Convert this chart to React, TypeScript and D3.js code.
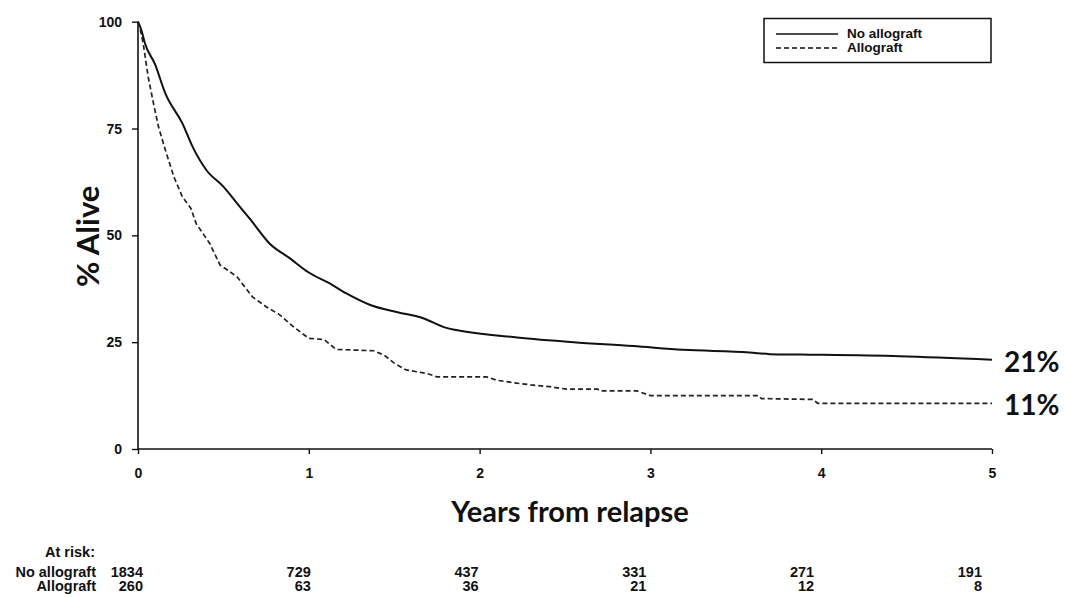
import { useRef, useEffect } from "react";
import * as d3 from "d3";

// Kaplan-Meier estimates (years, % alive)
const noAllograftYears = [0, 0.02, 0.04, 0.1, 0.16, 0.26, 0.32, 0.4, 0.5, 0.58, 0.66, 0.77, 0.89, 1.0, 1.12, 1.22, 1.36, 1.52, 1.67, 1.8, 1.87, 2.22, 2.55, 2.9, 3.19, 3.58, 3.7, 3.88, 4.46, 5.0];
const noAllograftPct = [100, 98, 95, 90, 83.2, 76.2, 70.7, 65.3, 61.4, 57.5, 53.6, 48.1, 44.6, 41.3, 38.8, 36.4, 33.7, 32.0, 30.6, 28.4, 27.8, 26.1, 25.0, 24.1, 23.2, 22.6, 22.2, 22.1, 21.7, 20.9];

const allograftYears = [0, 0.01, 0.03, 0.06, 0.09, 0.12, 0.16, 0.21, 0.26, 0.31, 0.34, 0.42, 0.48, 0.58, 0.67, 0.75, 0.83, 0.91, 1.0, 1.09, 1.16, 1.38, 1.44, 1.5, 1.57, 1.69, 1.75, 2.04, 2.1, 2.2, 2.3, 2.41, 2.51, 2.69, 2.71, 2.92, 3.0, 3.63, 3.65, 3.95, 3.98, 5.0];
const allograftPct = [100, 98.8, 95, 87, 81, 75.4, 70, 63.7, 59, 56.3, 52.8, 48.1, 43.1, 40.3, 35.6, 33.3, 31.4, 28.6, 25.9, 25.6, 23.3, 23.0, 22.0, 20.1, 18.5, 17.7, 16.9, 16.9, 16.1, 15.5, 15.0, 14.6, 14.0, 14.0, 13.6, 13.6, 12.5, 12.5, 11.8, 11.6, 10.7, 10.7];

const xTicks = [0, 1, 2, 3, 4, 5];
const yTicks = [0, 25, 50, 75, 100];

const atRiskNoAllograft = [1834, 729, 437, 331, 271, 191];
const atRiskAllograft = [260, 63, 36, 21, 12, 8];

const endLabels = ["21%", "11%"];

const W = 1065;
const H = 597;

export default function App() {
  const svgRef = useRef<SVGSVGElement>(null);

  useEffect(() => {
    const svg = d3.select(svgRef.current);
    svg.selectAll("*").remove();

    const tickFont = "'Liberation Sans', Arial, sans-serif";
    const bigFont = "Lato, 'Open Sans', sans-serif";

    const x = d3.scaleLinear().domain([0, 5]).range([138, 992]);
    const y = d3.scaleLinear().domain([0, 100]).range([449, 21.7]);

    // axes
    const gx = svg.append("g").attr("transform", `translate(0,${y(0)})`)
      .call(d3.axisBottom(x).tickValues(xTicks).tickSize(5).tickPadding(14).tickFormat(d3.format("d")));
    const gy = svg.append("g").attr("transform", `translate(${x(0)},0)`)
      .call(d3.axisLeft(y).tickValues(yTicks).tickSize(6).tickPadding(10).tickFormat(d3.format("d")));
    [gx, gy].forEach((g) => {
      g.select(".domain").attr("stroke", "#111").attr("stroke-width", 1.6);
      g.selectAll(".tick line").attr("stroke", "#111").attr("stroke-width", 1.4);
      g.selectAll(".tick text")
        .attr("fill", "#111")
        .attr("font-size", "14px")
        .attr("font-weight", "bold")
        .attr("font-family", tickFont);
    });
    gy.select(".domain").attr("d", `M-0,${y(0)}V${y(100)}`);
    gx.select(".domain").attr("d", `M${x(0)},0H${x(5)}`);

    // curves
    const solid = d3.line<number>()
      .x((_, i) => x(noAllograftYears[i]))
      .y((d) => y(d))
      .curve(d3.curveMonotoneX);
    svg.append("path")
      .attr("d", solid(noAllograftPct))
      .attr("fill", "none")
      .attr("stroke", "#111")
      .attr("stroke-width", 2);

    const dashed = d3.line<number>()
      .x((_, i) => x(allograftYears[i]))
      .y((d) => y(d));
    svg.append("path")
      .attr("d", dashed(allograftPct))
      .attr("fill", "none")
      .attr("stroke", "#222")
      .attr("stroke-width", 1.7)
      .attr("stroke-dasharray", "5,3");

    // end-of-curve labels
    const lastVals = [noAllograftPct[noAllograftPct.length - 1], allograftPct[allograftPct.length - 1]];
    lastVals.forEach((v, i) => {
      svg.append("text")
        .attr("x", x(5) + 12)
        .attr("y", y(v) + 12)
        .attr("fill", "#111")
        .attr("font-size", "28px")
        .attr("font-weight", "bold")
        .attr("font-family", bigFont)
        .text(endLabels[i]);
    });

    // axis titles
    svg.append("text")
      .attr("transform", `translate(99,${y(50) + 1}) rotate(-90)`)
      .attr("text-anchor", "middle")
      .attr("fill", "#111")
      .attr("font-size", "31px")
      .attr("font-weight", "bold")
      .attr("font-family", bigFont)
      .text("% Alive");

    svg.append("text")
      .attr("x", (x(0) + x(5)) / 2 + 5)
      .attr("y", 522)
      .attr("text-anchor", "middle")
      .attr("fill", "#111")
      .attr("font-size", "29px")
      .attr("font-weight", "bold")
      .attr("font-family", bigFont)
      .text("Years from relapse");

    // legend
    const lg = svg.append("g");
    lg.append("rect")
      .attr("x", 764).attr("y", 18.5)
      .attr("width", 227).attr("height", 44)
      .attr("fill", "#fff")
      .attr("stroke", "#111")
      .attr("stroke-width", 1.5);
    lg.append("line")
      .attr("x1", 776).attr("x2", 838).attr("y1", 34).attr("y2", 34)
      .attr("stroke", "#111").attr("stroke-width", 1.6);
    lg.append("line")
      .attr("x1", 776).attr("x2", 838).attr("y1", 48).attr("y2", 48)
      .attr("stroke", "#111").attr("stroke-width", 1.4)
      .attr("stroke-dasharray", "5,3");
    ["No allograft", "Allograft"].forEach((t, i) => {
      lg.append("text")
        .attr("x", 847)
        .attr("y", 38 + i * 13.5)
        .attr("fill", "#111")
        .attr("font-size", "13.5px")
        .attr("font-weight", "bold")
        .attr("font-family", tickFont)
        .text(t);
    });

    // at-risk table
    const tableText = (tx: number, ty: number, label: string) =>
      svg.append("text")
        .attr("x", tx)
        .attr("y", ty)
        .attr("text-anchor", "end")
        .attr("fill", "#111")
        .attr("font-size", "14.5px")
        .attr("font-weight", "bold")
        .attr("font-family", tickFont)
        .text(label);

    tableText(95, 557, "At risk:");
    tableText(96, 577, "No allograft");
    tableText(96, 591, "Allograft");
    xTicks.forEach((t, i) => {
      tableText(x(t) + 5 - i * 3, 577, String(atRiskNoAllograft[i]));
      tableText(x(t) + 5 - i * 3, 591, String(atRiskAllograft[i]));
    });
  }, []);

  return (
    <svg
      ref={svgRef}
      width={W}
      height={H}
      style={{ position: "absolute", left: 0, top: 0, background: "#fff" }}
    />
  );
}
